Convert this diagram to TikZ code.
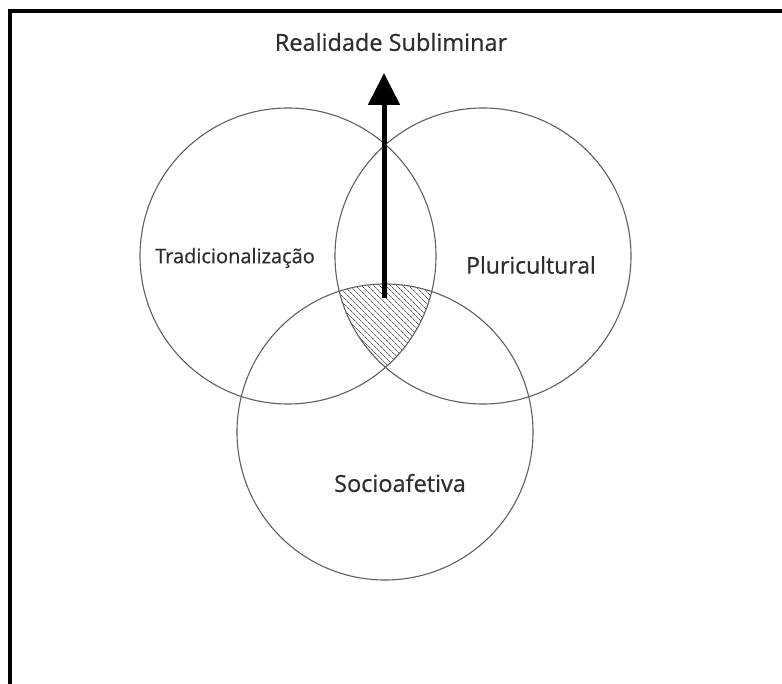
\documentclass[tikz,border=0pt]{standalone}
\usepackage{fontspec}
\setmainfont{Open Sans}[FakeBold=0.6]
\definecolor{circlegray}{RGB}{95, 95, 95}
\definecolor{textgray}{RGB}{45, 45, 50}
\usetikzlibrary{
  arrows.meta,
  patterns.meta,
  positioning,
}
\tikzset{
  ring/.style={draw=circlegray,line width=1.1pt,circle,minimum size=296pt,inner sep=0pt},
  label/.style={text=textgray,inner sep=0pt},
}

\begin{document}
\begin{tikzpicture}[x=1pt,y=-1pt]
        \useasboundingbox (0,0) rectangle (782,684);
        % frame (only left and top edges show)
        \draw[line width=3.5pt] (10,684) -- (10,11) -- (782,11);

        \node[ring] (trad)  at (288,256) {};
        \node[ring] (pluri) at (483,256) {};
        \node[ring] (socio) at (385,432) {};

        % hatched middle
        \begin{scope}
            \clip (trad.center) circle (148pt);
            \clip (pluri.center) circle (148pt);
            \fill[pattern={Lines[angle=-45,distance=4pt,line width=0.8pt]},pattern color=circlegray] (socio.center) circle (148pt);
        \end{scope}

        \node[label,font=\fontsize{23.5}{23.5}\selectfont] (real) at (391,42) {Realidade Subliminar};
        \node[label,font=\fontsize{20}{20}\selectfont] (tradlbl) at (235,258) {Tradicionalização};
        \node[label,font=\fontsize{23}{23}\selectfont] (plurilbl) at (531,265) {Pluricultural};
        \node[label,font=\fontsize{23.5}{23.5}\selectfont] (sociolbl) at (400,483) {Socioafetiva};

        \coordinate (base) at (384,298);
        \coordinate (tip) at (384,73);
        \draw[line width=5pt,-{Triangle[width=31pt,length=32pt]}] (base) -- (tip);
    \end{tikzpicture}
\end{document}
